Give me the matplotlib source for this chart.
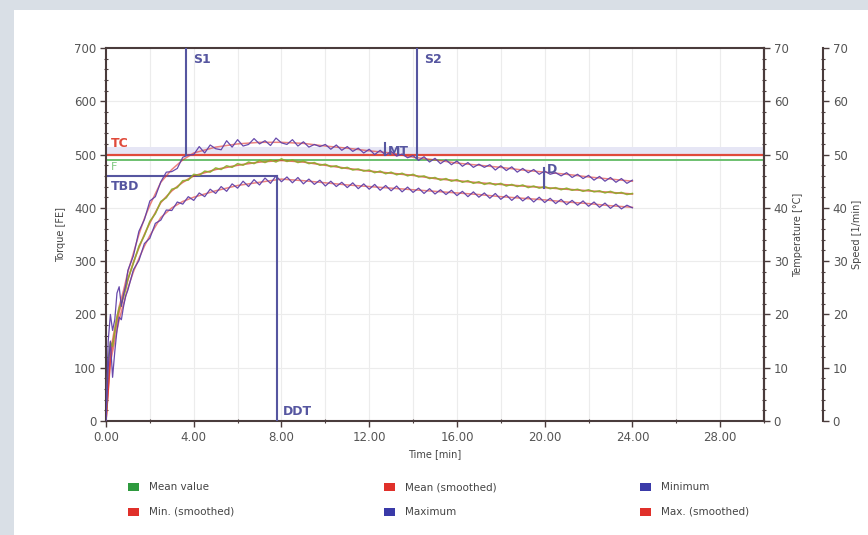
import numpy as np
import matplotlib
matplotlib.use("Agg")
import matplotlib.pyplot as plt
from matplotlib.patches import Rectangle
from matplotlib.ticker import MultipleLocator, FormatStrFormatter

# ---------------- data ----------------
TIME_EARLY = [0.0, 0.1, 0.2, 0.3, 0.4, 0.5, 0.6, 0.7, 0.8, 0.9]
MAX_EARLY = [0, 150, 200, 170, 190, 240, 252, 215, 238, 255]
MEAN_EARLY = [0, 115, 148, 140, 168, 195, 212, 222, 233, 248]
MIN_EARLY = [0, 100, 150, 82, 130, 170, 195, 190, 215, 235]

# raw values every 0.25 min from 1.00 to 24.00 (four per minute, last = 24.00)
MAX_RAW = [
    283, 310, 356, 378, 413, 421, 449, 467, 468, 474, 495, 499,
    500, 515, 503, 518, 511, 509, 526, 514, 528, 516, 519, 530,
    520, 526, 517, 531, 522, 519, 528, 516, 524, 514, 519, 515,
    519, 510, 518, 508, 515, 506, 512, 503, 510, 500, 508, 499,
    506, 497, 501, 494, 498, 489, 496, 486, 493, 483, 490, 481,
    488, 478, 485, 476, 482, 476, 481, 471, 479, 470, 477, 467,
    474, 466, 472, 463, 469, 463, 466, 460, 466, 457, 463, 455,
    461, 452, 459, 450, 457, 448, 455, 446, 452]
MEAN_RAW = [
    267, 296, 328, 348, 375, 389, 412, 419, 435, 438, 451, 452,
    463, 461, 469, 467, 475, 472, 479, 476, 483, 480, 486, 483,
    489, 485, 490, 486, 492, 487, 490, 485, 488, 483, 485, 480,
    482, 477, 479, 474, 476, 471, 473, 469, 471, 466, 469, 464,
    467, 462, 465, 460, 463, 458, 460, 455, 457, 452, 455, 450,
    453, 448, 451, 446, 449, 444, 447, 443, 446, 441, 444, 440,
    443, 438, 441, 437, 440, 436, 438, 434, 437, 433, 435, 431,
    434, 430, 432, 428, 431, 427, 429, 425, 427]
MIN_RAW = [
    246, 284, 301, 333, 343, 371, 377, 396, 395, 411, 407, 421,
    414, 428, 421, 435, 427, 440, 431, 445, 437, 450, 440, 453,
    443, 456, 446, 460, 449, 458, 447, 457, 445, 454, 444, 452,
    441, 450, 440, 448, 438, 447, 436, 445, 435, 444, 433, 442,
    432, 441, 430, 439, 429, 437, 427, 436, 426, 434, 425, 433,
    423, 431, 421, 430, 420, 428, 418, 427, 416, 424, 414, 423,
    413, 421, 411, 420, 410, 418, 408, 416, 406, 414, 405, 413,
    403, 411, 401, 409, 399, 407, 398, 405, 400]

SMOOTH_TIME = [0, 0.2, 0.4, 0.6, 0.8, 1.0, 1.25, 1.5, 1.75, 2.0, 2.5, 3, 3.5, 4,
               5, 6, 7, 8, 9, 10, 11, 12, 13, 14, 15, 16, 17, 18, 19, 20, 21, 22, 23, 24]
MAX_SMOOTH = [0, 130, 175, 215, 245, 280, 315, 350, 380, 405, 448, 472, 490, 503,
              514, 520, 523, 523, 521, 516, 512, 507, 503, 495, 490, 484, 480, 476,
              471, 467, 463, 458, 454, 450]
MEAN_SMOOTH = [0, 120, 165, 205, 235, 265, 298, 325, 350, 372, 410, 432, 448, 460,
               472, 480, 486, 489, 486, 480, 474, 469, 465, 461, 455, 451, 447, 444,
               441, 438, 435, 432, 429, 426]
MIN_SMOOTH = [0, 110, 150, 190, 220, 250, 280, 305, 328, 348, 382, 400, 412, 420,
              432, 442, 448, 454, 451, 447, 443, 440, 437, 434, 431, 428, 425, 421,
              418, 415, 411, 408, 404, 401]

LEVEL_NAMES = ["TC", "F", "TBD"]
LEVEL_VALUES = [500, 490, 460]
BAND = (500, 515)

EVENT_NAMES = ["S1", "S2", "MT", "D", "DDT"]
EVENT_TIMES = [3.65, 14.2, 12.7, 19.95, 7.8]
EVENT_LOW = [500, 493, 500, 437, 0]
EVENT_HIGH = [700, 700, 522, 475, 460]

LEGEND_LABELS = [["Mean value", "Mean (smoothed)", "Minimum"],
                 ["Min. (smoothed)", "Maximum", "Max. (smoothed)"]]
LEGEND_COLORS = [["#2e9a3e", "#e0302a", "#3a3aa8"],
                 ["#e0302a", "#3a3aa8", "#e0302a"]]

# ---------------- figure ----------------
W, H = 868, 535
fig = plt.figure(figsize=(W / 100, H / 100), dpi=100, facecolor="#d9dfe6")
fig.patches.append(Rectangle((14 / W, 0), 1, 1 - 10 / H, transform=fig.transFigure,
                             facecolor="white", edgecolor="none", zorder=-10))

L, R, T, B = 106, 764, 48, 421
ax = fig.add_axes([L / W, 1 - B / H, (R - L) / W, (B - T) / H])
ax.set_zorder(2)
ax.set_facecolor("white")

t_raw = np.concatenate([TIME_EARLY, np.arange(1.0, 24.001, 0.25)])
max_raw = np.array(MAX_EARLY + MAX_RAW)
mean_raw = np.array(MEAN_EARLY + MEAN_RAW)
min_raw = np.array(MIN_EARLY + MIN_RAW)

ax.set_xlim(0, 30)
ax.set_ylim(0, 700)

# grid
ax.xaxis.set_major_locator(MultipleLocator(4))
ax.xaxis.set_minor_locator(MultipleLocator(2))
ax.yaxis.set_major_locator(MultipleLocator(100))
ax.yaxis.set_minor_locator(MultipleLocator(20))
ax.xaxis.set_major_formatter(FormatStrFormatter("%.2f"))
for x in np.arange(2, 30, 2):
    ax.axvline(x, color="#ececec", lw=0.8, zorder=0.5)
for y in np.arange(100, 700, 100):
    ax.axhline(y, color="#ececec", lw=0.8, zorder=0.5)

# levels
ax.axhspan(BAND[0], BAND[1], color="#e6e6f5", zorder=1, lw=0)
ax.axhline(LEVEL_VALUES[0], color="#e04a3a", lw=1.6, zorder=2)
ax.axhline(LEVEL_VALUES[1], color="#6cc070", lw=1.4, zorder=2)
ax.plot([0, EVENT_TIMES[4]], [LEVEL_VALUES[2]] * 2, color="#5656a0", lw=1.5, zorder=2)
ax.text(0.2, 508, LEVEL_NAMES[0], color="#e04a3a", fontsize=9, fontweight="bold",
        va="bottom", zorder=6)
ax.text(0.2, 476, LEVEL_NAMES[1], color="#80c880", fontsize=8, va="center", zorder=6)
ax.text(0.2, 452, LEVEL_NAMES[2], color="#5656a0", fontsize=9, fontweight="bold",
        va="top", zorder=6)

# curves
ax.plot(SMOOTH_TIME, MAX_SMOOTH, color="#e0302a", lw=1.1, alpha=0.6, zorder=3)
ax.plot(SMOOTH_TIME, MIN_SMOOTH, color="#e0302a", lw=1.1, alpha=0.6, zorder=3)
ax.plot(SMOOTH_TIME, MEAN_SMOOTH, color="#e0302a", lw=1.2, alpha=0.7, zorder=3)
ax.plot(t_raw, mean_raw, color="#8cae2a", lw=1.1, alpha=0.9, zorder=4)
ax.plot(t_raw, max_raw, color="#6040a8", lw=0.9, alpha=0.95, zorder=4)
ax.plot(t_raw, min_raw, color="#6040a8", lw=0.9, alpha=0.95, zorder=4)

# events
ev_col = "#5656a0"
for name, tt, lo, hi in zip(EVENT_NAMES, EVENT_TIMES, EVENT_LOW, EVENT_HIGH):
    ax.plot([tt, tt], [lo, hi], color=ev_col, lw=1.5, zorder=5)
lab_pos = {"S1": (0.3, 690, "top"), "S2": (0.3, 690, "top"), "MT": (0.15, 505, "center"),
           "D": (0.15, 472, "center"), "DDT": (0.25, 6, "bottom")}
for name, tt in zip(EVENT_NAMES, EVENT_TIMES):
    dx, yy, va = lab_pos[name]
    ax.text(tt + dx, yy, name, color=ev_col, fontsize=9, fontweight="bold",
            va=va, ha="left", zorder=6)

# spines / ticks
sp_col = "#4a3c3c"
for s in ax.spines.values():
    s.set_color(sp_col)
    s.set_linewidth(1.5)
ax.tick_params(axis="both", which="major", direction="out", length=4, width=1,
               color=sp_col, labelcolor="#555555", labelsize=8.5, pad=3)
ax.tick_params(axis="both", which="minor", direction="inout", length=3, width=0.8,
               color=sp_col)
ax.set_xlabel("Time [min]", fontsize=7, color="#444444", labelpad=4)
ax.set_ylabel("Torque [FE]", fontsize=7, color="#444444", labelpad=6)

# right axes
for k, (lab, pos) in enumerate([("Temperature [°C]", 1.0), ("Speed [1/min]", 1.0 + 59 / (R - L))]):
    a2 = ax.twinx()
    a2.set_ylim(0, 70)
    a2.patch.set_visible(False)
    a2.spines["right"].set_position(("axes", pos))
    for nm in ["left", "top", "bottom"]:
        a2.spines[nm].set_visible(False)
    a2.spines["right"].set_color(sp_col)
    a2.spines["right"].set_linewidth(1.5)
    a2.yaxis.set_major_locator(MultipleLocator(10))
    a2.yaxis.set_minor_locator(MultipleLocator(2))
    a2.tick_params(axis="y", which="major", direction="out", length=4, width=1,
                   color=sp_col, labelcolor="#555555", labelsize=8.5, pad=3)
    a2.tick_params(axis="y", which="minor", direction="inout", length=3, width=0.8,
                   color=sp_col)
    a2.set_ylabel(lab, fontsize=7, color="#444444", labelpad=3)

# legend
rows_y = [487, 512]
cols_x = [128, 384, 640]
for r in range(2):
    for c in range(3):
        x0, y0 = cols_x[c], rows_y[r]
        fig.patches.append(Rectangle((x0 / W, 1 - (y0 + 4) / H), 11 / W, 8 / H,
                                     transform=fig.transFigure,
                                     facecolor=LEGEND_COLORS[r][c], edgecolor="none"))
        fig.text((x0 + 21) / W, 1 - y0 / H, LEGEND_LABELS[r][c], fontsize=7.5,
                 color="#444444", va="center", ha="left")

fig.savefig("out.png", dpi=100, facecolor=fig.get_facecolor())
